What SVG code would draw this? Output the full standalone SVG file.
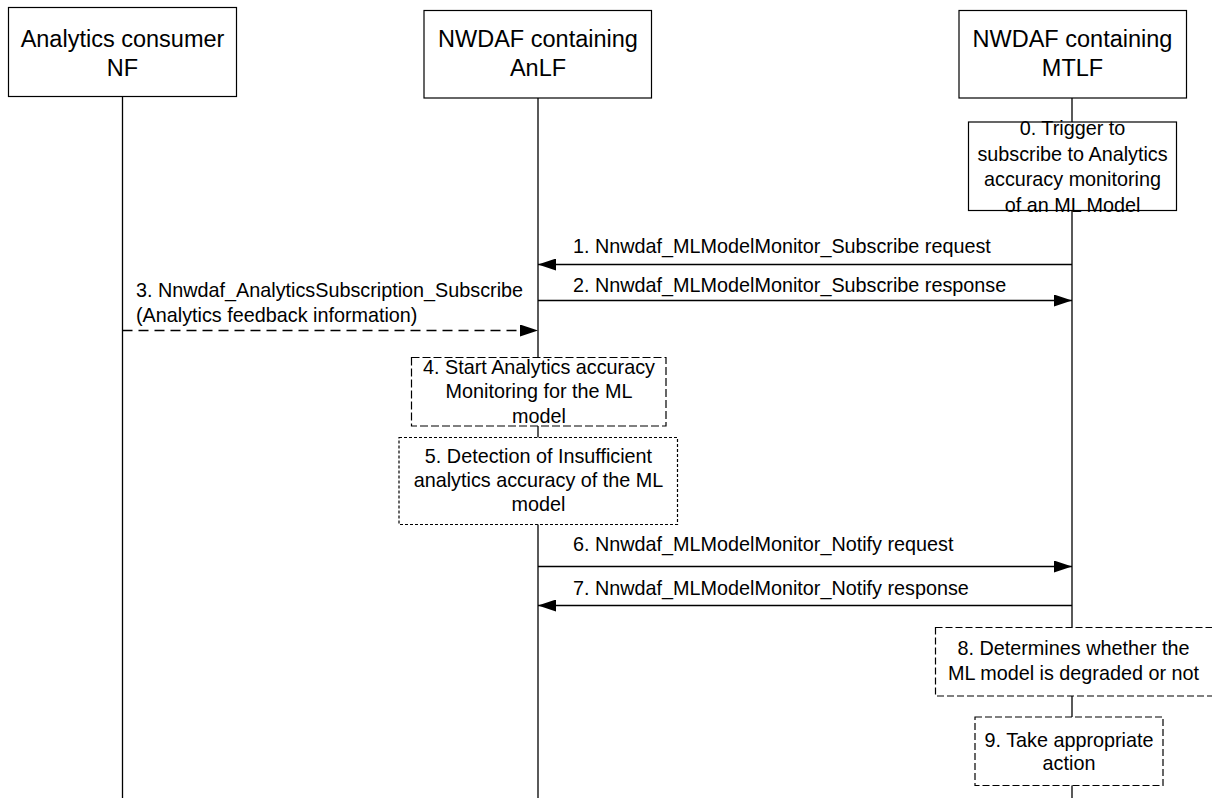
<svg xmlns="http://www.w3.org/2000/svg" width="1212" height="798" viewBox="0 0 1212 798">
<defs>
<style>
text{font-family:"Liberation Sans",Arial,sans-serif;fill:#000;text-anchor:middle}
.hd{font-size:23.5px}
.tx{font-size:19.8px}
.lt{text-anchor:start}
.box{fill:#fff;stroke:#000;stroke-width:1.2}
.d1{stroke-dasharray:8,3}
.d2{stroke-dasharray:3,2}
.d3{stroke-dasharray:7,3}
.life{stroke:#000;stroke-width:1.3;fill:none}
.msg{stroke:#000;stroke-width:1.3;fill:none;marker-end:url(#ah)}
</style>
<marker id="ah" markerUnits="userSpaceOnUse" markerWidth="18" markerHeight="12" refX="18" refY="6" orient="auto">
<path d="M0,0 L18,6 L0,12 Z" fill="#000"/>
</marker>
</defs>
<rect width="1212" height="798" fill="#fff"/>
<g id="lifelines">
<line class="life" x1="122.5" y1="97" x2="122.5" y2="798"/>
<line class="life" x1="538" y1="98" x2="538" y2="798"/>
<line class="life" x1="1072" y1="98" x2="1072" y2="798"/>
</g>
<g id="consumer">
<rect class="box" x="8.5" y="7.5" width="228" height="89"/>
<text class="hd" x="122.5" y="46.5">Analytics consumer</text>
<text class="hd" x="122.5" y="76">NF</text>
</g>
<g id="anlf">
<rect class="box" x="424" y="10.5" width="227.5" height="87.5"/>
<text class="hd" x="538" y="46.5">NWDAF containing</text>
<text class="hd" x="538" y="76">AnLF</text>
</g>
<g id="mtlf">
<rect class="box" x="959" y="10.5" width="227.5" height="87.5"/>
<text class="hd" x="1072.5" y="46.5">NWDAF containing</text>
<text class="hd" x="1072.5" y="76">MTLF</text>
</g>
<g id="step0">
<rect class="box" x="968.5" y="122" width="208" height="88.5"/>
<text class="tx" x="1072.5" y="135">0. Trigger to</text>
<text class="tx" x="1072.5" y="161">subscribe to Analytics</text>
<text class="tx" x="1072.5" y="186">accuracy monitoring</text>
<text class="tx" x="1072.5" y="211.5">of an ML Model</text>
</g>
<g id="step4">
<rect class="box d1" x="411.5" y="357.5" width="254.5" height="68.5"/>
<text class="tx" x="539" y="374">4. Start Analytics accuracy</text>
<text class="tx" x="539" y="398">Monitoring for the ML</text>
<text class="tx" x="539" y="422.5">model</text>
</g>
<g id="step5">
<rect class="box d2" x="399" y="437.5" width="278.5" height="87"/>
<text class="tx" x="538.5" y="463">5. Detection of Insufficient</text>
<text class="tx" x="538.5" y="487">analytics accuracy of the ML</text>
<text class="tx" x="538.5" y="510.5">model</text>
</g>
<g id="step8">
<rect class="box d3" x="935.5" y="627.5" width="280" height="68.5"/>
<text class="tx" x="1073.5" y="655">8. Determines whether the</text>
<text class="tx" x="1073.5" y="680">ML model is degraded or not</text>
</g>
<g id="step9">
<rect class="box d3" x="975" y="717" width="188" height="68.5"/>
<text class="tx" x="1069" y="746.5">9. Take appropriate</text>
<text class="tx" x="1069" y="770">action</text>
</g>
<g id="connectors">
<line class="msg" x1="1072" y1="264.5" x2="538" y2="264.5"/>
<line class="msg" x1="538" y1="300.5" x2="1072" y2="300.5"/>
<line class="msg" x1="122.5" y1="330.5" x2="538" y2="330.5" stroke-dasharray="10,6"/>
<line class="msg" x1="538" y1="566.5" x2="1072" y2="566.5"/>
<line class="msg" x1="1072" y1="605.5" x2="538" y2="605.5"/>
</g>
<g id="labels">
<text class="tx lt" x="573" y="252.5">1. Nnwdaf_MLModelMonitor_Subscribe request</text>
<text class="tx lt" x="573" y="291.5">2. Nnwdaf_MLModelMonitor_Subscribe response</text>
<text class="tx lt" x="136" y="296.5">3. Nnwdaf_AnalyticsSubscription_Subscribe</text>
<text class="tx lt" x="136" y="321.5">(Analytics feedback information)</text>
<text class="tx lt" x="573" y="550.5">6. Nnwdaf_MLModelMonitor_Notify request</text>
<text class="tx lt" x="573" y="595">7. Nnwdaf_MLModelMonitor_Notify response</text>
</g>
</svg>
